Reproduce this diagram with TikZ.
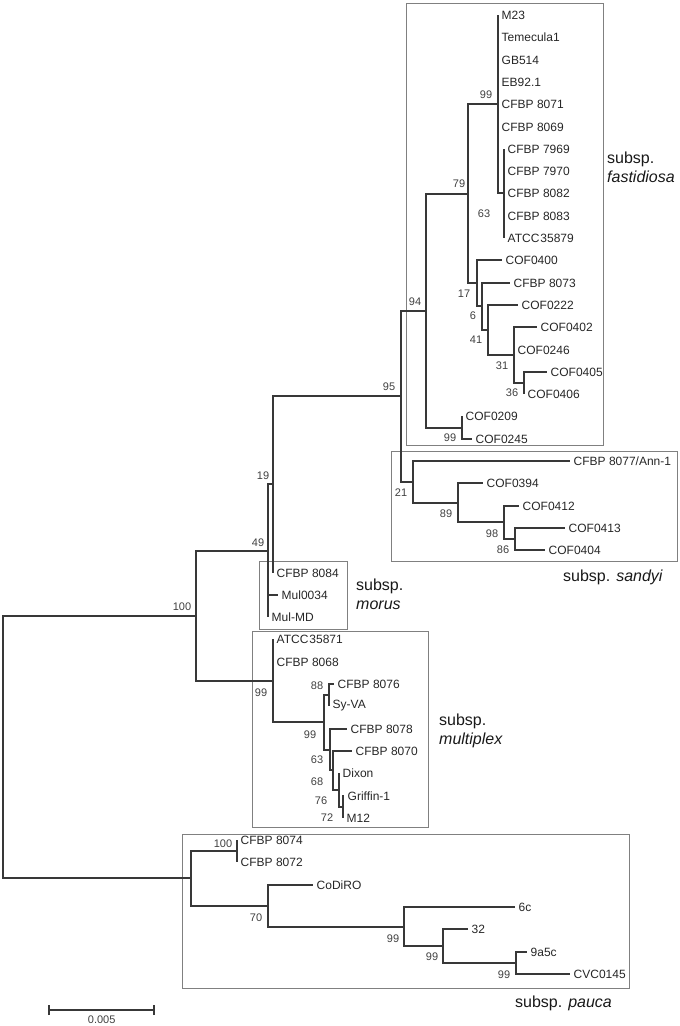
\documentclass[tikz,border=0pt]{standalone}
\usepackage{fontspec}
\setmainfont{Liberation Sans}
\newcommand\mytip[4]{\coordinate (#1) at (#2,#3); \node[tiplab] (#1L) at (#1) {#4};}
\begin{document}
\begin{tikzpicture}[x=1pt,y=-1pt,
 br/.style={line width=1.8pt, draw=black!78},
 clbox/.style={draw=black!50, line width=1pt},
 tiplab/.style={anchor=west, inner xsep=3.5pt, inner ysep=0pt, font=\fontsize{12}{12}\selectfont, text=black!85},
 boot/.style={inner sep=0pt, font=\fontsize{11}{11}\selectfont, text=black!75},
 clade/.style={anchor=west, align=left, inner sep=0pt, font=\fontsize{16}{19}\selectfont, text=black!90}]
\useasboundingbox (0,0) rectangle (680,1026);

% clade boxes
\draw[clbox] (406.5,3.5) rectangle (603.5,445.5);
\draw[clbox] (391.5,451.5) rectangle (677.5,561.5);
\draw[clbox] (259.5,561.5) rectangle (347.5,629.5);
\draw[clbox] (252.5,631.5) rectangle (428.5,827.5);
\draw[clbox] (182.5,834.5) rectangle (629.5,988.5);

% internal nodes
\coordinate (N99f) at (498,104);
\coordinate (N63f) at (504,193);
\coordinate (N36) at (524,383);
\coordinate (N31) at (514,355);
\coordinate (N41) at (488,330);
\coordinate (N6) at (482,306);
\coordinate (N17) at (477,283);
\coordinate (N79) at (468,194);
\coordinate (N99g) at (462,428);
\coordinate (N94) at (426,311);
\coordinate (N86) at (515,539);
\coordinate (N98) at (504,522);
\coordinate (N89) at (458,503);
\coordinate (N21) at (413,482);
\coordinate (N95) at (401,396);
\coordinate (N19) at (273,484);
\coordinate (N49) at (268,551);
\coordinate (N72) at (343,807);
\coordinate (N76) at (339,790);
\coordinate (N68) at (333,770);
\coordinate (N63m) at (330,750);
\coordinate (N88) at (329,695);
\coordinate (N99mi) at (324,722);
\coordinate (N99m) at (273,681);
\coordinate (N100) at (196,616);
\coordinate (N99c) at (516,963);
\coordinate (N99b) at (443,946);
\coordinate (N99a) at (404,927);
\coordinate (N70) at (268,906);
\coordinate (N100p) at (237,851);
\coordinate (Npa) at (191,878);
\coordinate (Root) at (3,747);

% tips
\mytip{t1}{498}{15}{M23}
\mytip{t2}{498}{37}{Temecula1}
\mytip{t3}{498}{60}{GB514}
\mytip{t4}{498}{82}{EB92.1}
\mytip{t5}{498}{104}{CFBP 8071}
\mytip{t6}{498}{127}{CFBP 8069}
\mytip{t7}{504}{149}{CFBP 7969}
\mytip{t8}{504}{171}{CFBP 7970}
\mytip{t9}{504}{193}{CFBP 8082}
\mytip{t10}{504}{216}{CFBP 8083}
\mytip{t11}{504}{238}{ATCC\kern1pt35879}
\mytip{t12}{502}{260}{COF0400}
\mytip{t13}{510}{283}{CFBP 8073}
\mytip{t14}{518}{305}{COF0222}
\mytip{t15}{537}{327}{COF0402}
\mytip{t16}{514}{350}{COF0246}
\mytip{t17}{547}{372}{COF0405}
\mytip{t18}{524}{394}{COF0406}
\mytip{t19}{462}{416}{COF0209}
\mytip{t20}{472}{439}{COF0245}
\mytip{t21}{570}{461}{CFBP 8077/Ann-1}
\mytip{t22}{483}{483}{COF0394}
\mytip{t23}{519}{506}{COF0412}
\mytip{t24}{565}{528}{COF0413}
\mytip{t25}{545}{550}{COF0404}
\mytip{t26}{273}{573}{CFBP 8084}
\mytip{t27}{278}{595}{Mul0034}
\mytip{t28}{268}{617}{Mul-MD}
\mytip{t29}{273}{639}{ATCC\kern1pt35871}
\mytip{t30}{273}{662}{CFBP 8068}
\mytip{t31}{334}{684}{CFBP 8076}
\mytip{t32}{329}{706}{Sy-VA}
\mytip{t33}{347}{729}{CFBP 8078}
\mytip{t34}{352}{751}{CFBP 8070}
\mytip{t35}{339}{773}{Dixon}
\mytip{t36}{344}{796}{Griffin-1}
\mytip{t37}{343}{818}{M12}
\mytip{t38}{237}{840}{CFBP 8074}
\mytip{t39}{237}{862}{CFBP 8072}
\mytip{t40}{313}{885}{CoDiRO}
\mytip{t41}{515}{907}{6c}
\mytip{t42}{468}{929}{32}
\mytip{t43}{527}{952}{9a5c}
\mytip{t44}{570}{974}{CVC0145}

% branches (one path, so overlapping strokes do not darken)
\draw[br]
  foreach \c in {t1,t2,t3,t4,t5,t6,N63f} {(N99f) |- (\c)}
  foreach \c in {t7,t8,t9,t10,t11} {(N63f) |- (\c)}
  foreach \c in {t17,t18} {(N36) |- (\c)}
  foreach \c in {t15,t16,N36} {(N31) |- (\c)}
  foreach \c in {t14,N31} {(N41) |- (\c)}
  foreach \c in {t13,N41} {(N6) |- (\c)}
  foreach \c in {t12,N6} {(N17) |- (\c)}
  foreach \c in {N99f,N17} {(N79) |- (\c)}
  foreach \c in {t19,t20} {(N99g) |- (\c)}
  foreach \c in {N79,N99g} {(N94) |- (\c)}
  foreach \c in {t24,t25} {(N86) |- (\c)}
  foreach \c in {t23,N86} {(N98) |- (\c)}
  foreach \c in {t22,N98} {(N89) |- (\c)}
  foreach \c in {t21,N89} {(N21) |- (\c)}
  foreach \c in {N94,N21} {(N95) |- (\c)}
  foreach \c in {N95,t26} {(N19) |- (\c)}
  foreach \c in {N19,t27,t28} {(N49) |- (\c)}
  foreach \c in {t36,t37} {(N72) |- (\c)}
  foreach \c in {t35,N72} {(N76) |- (\c)}
  foreach \c in {t34,N76} {(N68) |- (\c)}
  foreach \c in {t33,N68} {(N63m) |- (\c)}
  foreach \c in {t31,t32} {(N88) |- (\c)}
  foreach \c in {N88,N63m} {(N99mi) |- (\c)}
  foreach \c in {t29,t30,N99mi} {(N99m) |- (\c)}
  foreach \c in {N49,N99m} {(N100) |- (\c)}
  foreach \c in {t43,t44} {(N99c) |- (\c)}
  foreach \c in {t42,N99c} {(N99b) |- (\c)}
  foreach \c in {t41,N99b} {(N99a) |- (\c)}
  foreach \c in {t40,N99a} {(N70) |- (\c)}
  foreach \c in {t38,t39} {(N100p) |- (\c)}
  foreach \c in {N100p,N70} {(Npa) |- (\c)}
  foreach \c in {N100,Npa} {(Root) |- (\c)};

% bootstrap values
\node[boot] (b1) at (486,95) {99};
\node[boot] (b2) at (459,184) {79};
\node[boot] (b3) at (484,214) {63};
\node[boot] (b4) at (464,294) {17};
\node[boot] (b5) at (473,316) {6};
\node[boot] (b6) at (476,340) {41};
\node[boot] (b7) at (502,366) {31};
\node[boot] (b8) at (512,393) {36};
\node[boot] (b9) at (450,438) {99};
\node[boot] (b10) at (415,302) {94};
\node[boot] (b11) at (389,387) {95};
\node[boot] (b12) at (401,493) {21};
\node[boot] (b13) at (446,514) {89};
\node[boot] (b14) at (492,534) {98};
\node[boot] (b15) at (503,550) {86};
\node[boot] (b16) at (263,476) {19};
\node[boot] (b17) at (258,543) {49};
\node[boot] (b18) at (182,607) {100};
\node[boot] (b19) at (261,693) {99};
\node[boot] (b20) at (317,686) {88};
\node[boot] (b21) at (310,735) {99};
\node[boot] (b22) at (317,760) {63};
\node[boot] (b23) at (317,782) {68};
\node[boot] (b24) at (321,801) {76};
\node[boot] (b25) at (327,818) {72};
\node[boot] (b26) at (223,844) {100};
\node[boot] (b27) at (256,918) {70};
\node[boot] (b28) at (393,939) {99};
\node[boot] (b29) at (432,957) {99};
\node[boot] (b30) at (504,975) {99};

% clade labels
\node[clade] (cf) at (607,167) {subsp.\\\textit{fastidiosa}};
\node[clade] (cs) at (563,577) {subsp. \textit{sandyi}};
\node[clade] (cm) at (356,594) {subsp.\\\textit{morus}};
\node[clade] (cx) at (439,731) {subsp.\\\textit{multiplex}};
\node[clade] (cp) at (515,1003) {subsp. \textit{pauca}};

% scale bar
\coordinate (s1) at (49,1010);
\coordinate (s2) at (154,1010);
\draw[br, line width=1.6pt] (s1) -- (s2)
  ([yshift=-5pt]s1) -- ([yshift=5pt]s1)
  ([yshift=-5pt]s2) -- ([yshift=5pt]s2);
\node[boot] (sl) at (101.7,1020) {0.005};
\end{tikzpicture}
\end{document}
